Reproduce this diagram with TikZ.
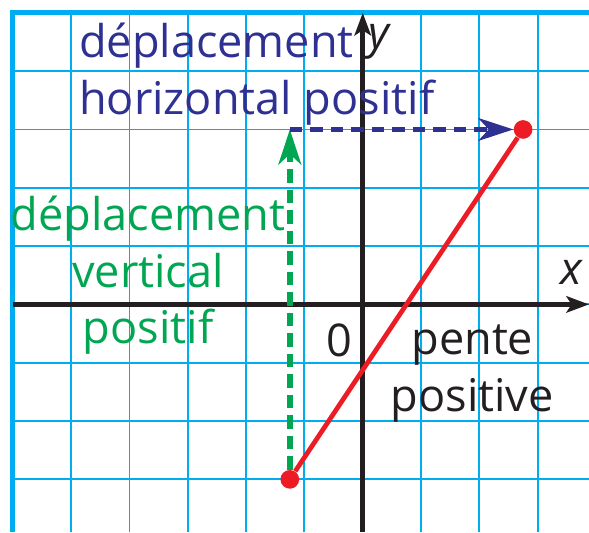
\documentclass[tikz,border=0pt]{standalone}
\usepackage{fontspec}
\setmainfont{Open Sans}
\usetikzlibrary{arrows.meta,positioning}
\definecolor{gridcyan}{RGB}{0,174,239}
\definecolor{navyblue}{RGB}{46,49,146}
\definecolor{leafgreen}{RGB}{0,166,81}
\definecolor{brightred}{RGB}{237,28,36}
\definecolor{inkgray}{RGB}{35,31,32}

\begin{document}
\begin{tikzpicture}[every node/.style={font=\fontsize{22}{27.5}\selectfont, inner sep=0pt},
  gridline/.style={gridcyan, line width=0.9pt},
  gridborder/.style={gridcyan, line width=2.4pt},
  axis/.style={inkgray, line width=2.5pt, -{Stealth[length=11pt, width=8pt, inset=2.5pt]}},
  segment/.style={brightred, line width=2.3pt},
  dot/.style={circle, fill=brightred, minimum size=0.32cm},
  vmove/.style={leafgreen, line width=2.9pt, dash pattern=on 6.5pt off 3.5pt, -{Stealth[length=17pt, width=11pt, inset=5pt]}},
  hmove/.style={navyblue, line width=2.6pt, dash pattern=on 6pt off 4pt, -{Stealth[length=17pt, width=11pt, inset=5pt]}}]
\useasboundingbox (-6.22,-3.91) rectangle (3.88,5.22);
% Grid
\draw[gridline] (-6,-3.91) grid (3.88,5);
\draw[gridborder] (-6,-3.91) -- (-6,5) -- (3.88,5);
% Axes
\coordinate (xstart) at (-6,0);
\coordinate (xend) at (3.88,0);
\coordinate (ystart) at (0,-3.91);
\coordinate (yend) at (0,5);
\draw[axis] (xstart) -- (xend);
\draw[axis] (ystart) -- (yend);
\node[inkgray] (xlab) at (3.58,0.55) {\textit{x}};
\node[inkgray] (ylab) at (0.3,4.5) {\textit{y}};
\node[inkgray] (orig) at (-0.4,-0.62) {0};
% Segment and displacements
\node[dot] (P) at (-1.25,-3) {};
\node[dot] (Q) at (2.75,3) {};
\coordinate (corner) at (-1.25,3);
\draw[segment] (P) -- (Q);
\draw[vmove] (P) -- (corner);
\draw[hmove] (corner) -- (Q);
% Labels
\node[navyblue, align=left, anchor=base west] (hlab) at (-4.87,3.26) {déplacement\\horizontal positif};
\node[leafgreen, align=center, anchor=base] (vlab) at (-3.68,-0.67) {déplacement\\vertical\\positif};
\node[inkgray, align=center, anchor=base] (slab) at (1.88,-1.83) {pente\\positive};
\end{tikzpicture}
\end{document}
